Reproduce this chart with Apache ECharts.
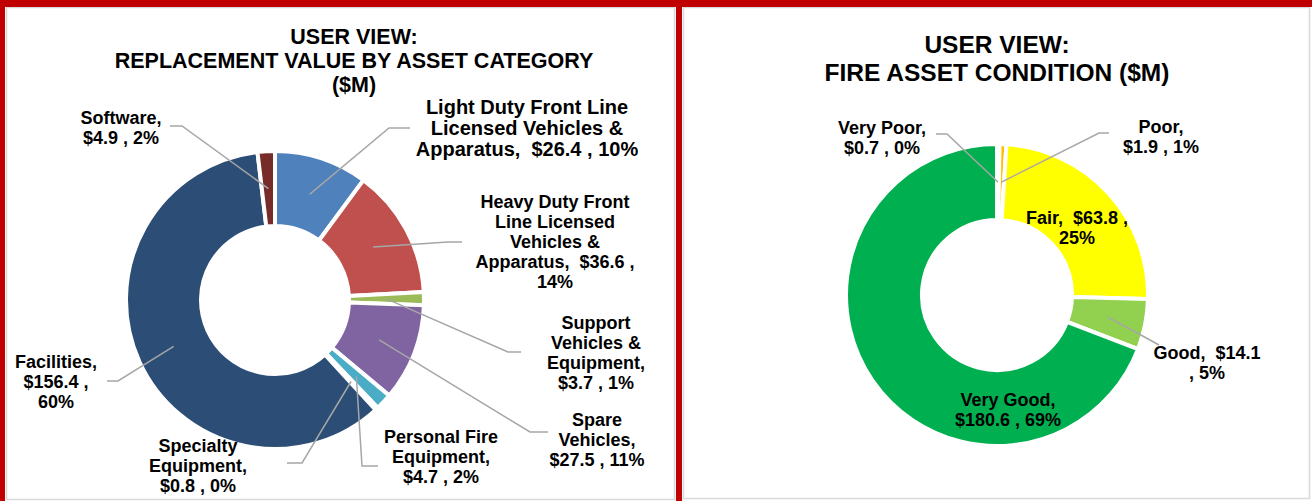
<!DOCTYPE html>
<html>
<head>
<meta charset="utf-8">
<script src="https://cdn.jsdelivr.net/npm/echarts@6/dist/echarts.min.js"></script>
<style>
  html, body { margin: 0; padding: 0; background: #ffffff; }
  #chart { width: 1315px; height: 501px; }
</style>
</head>
<body>
<div id="chart"></div>
<script>
// ---- Replacement value by asset category ($M) ----
const assetCategories = [
  'Light Duty Front Line\nLicensed Vehicles &\nApparatus',
  'Heavy Duty Front\nLine Licensed\nVehicles &\nApparatus',
  'Support\nVehicles &\nEquipment',
  'Spare\nVehicles',
  'Personal Fire\nEquipment',
  'Specialty\nEquipment',
  'Facilities',
  'Software'
];
const assetValues = [26.4, 36.6, 3.7, 27.5, 4.7, 0.8, 156.4, 4.9];
const assetPercents = [10, 14, 1, 11, 2, 0, 60, 2];
const assetColors = ['#4F81BD', '#C0504D', '#9BBB59', '#8064A2', '#4BACC6', '#F79646', '#2C4D75', '#772C2A'];
const assetLabelForms = [
  '{name},  {value} , {pct}',
  '{name},  {value} ,\n{pct}',
  '{name},\n{value} , {pct}',
  '{name},\n{value} , {pct}',
  '{name},\n{value} , {pct}',
  '{name},\n{value} , {pct}',
  '{name},\n{value} ,\n{pct}',
  '{name},\n{value} , {pct}'
];

// ---- Fire asset condition ($M) ----
const conditionCategories = ['Very Poor', 'Poor', 'Fair', 'Good', 'Very Good'];
const conditionValues = [0.7, 1.9, 63.8, 14.1, 180.6];
const conditionPercents = [0, 1, 25, 5, 69];
const conditionColors = ['#C00000', '#FFC000', '#FFFF00', '#92D050', '#00B050'];
const conditionLabelForms = [
  '{name},\n{value} , {pct}',
  '{name},\n{value} , {pct}',
  '{name},  {value} ,\n{pct}',
  '{name},  {value}\n, {pct}',
  '{name},\n{value} , {pct}'
];
const conditionInside = [false, false, true, false, true];

// ---- Layout: ring geometry, label centres, label sizes and leader elbows ----
const assetRing = { center: [275, 300], radius: [74, 149] };
const conditionRing = { center: [997, 295], radius: [75, 151] };

const assetLabelPos = [[527, 128], [555, 242], [596, 353], [597, 440], [441, 457], [198, 466], [56, 382], [121, 128]];
const assetLabelSize = [[20, 21], null, null, null, null, null, null, null];
const assetElbows = [
  [[389, 128], [410, 128]],
  [[448, 242], [462, 242]],
  [[508, 352], [521, 352]],
  [[530, 432], [548, 432]],
  [[362, 466], [378, 466]],
  [[302, 463], [287, 463]],
  [[118, 381], [107, 381]],
  [[182, 126], [170, 126]]
];
const conditionLabelPos = [[882, 138], [1161, 137], [1077, 228], [1207, 363], [1008, 410]];
const conditionLabelSize = [null, null, null, null, null];
const conditionElbows = [
  [[947, 134], [936, 134]],
  [[1099, 133], [1109, 133]],
  null,
  [[1150, 340], [1159, 345]],
  null
];

const FONT = '"Liberation Sans", Arial, sans-serif';

function fillLabel(form, name, value, pct) {
  return form
    .replace('{name}', name)
    .replace('{value}', '$' + value.toFixed(1))
    .replace('{pct}', pct + '%');
}

// Coloured ring slices (no labels)
function ringData(names, values, colors) {
  return names.map(function (n, i) {
    return { name: n, value: values[i], itemStyle: { color: colors[i] } };
  });
}

// Same slices, transparent, carrying labels and leader lines above the ring
function labelData(names, values, forms, pcts, inside, sizes) {
  return names.map(function (n, i) {
    const isIn = inside ? inside[i] : false;
    const label = {
      position: isIn ? 'inside' : 'outside',
      formatter: fillLabel(forms[i], n, values[i], pcts[i])
    };
    if (sizes[i]) {
      label.fontSize = sizes[i][0];
      label.lineHeight = sizes[i][1];
    }
    return {
      name: n,
      value: values[i],
      itemStyle: { color: 'rgba(0,0,0,0)' },
      label: label,
      labelLine: { show: !isIn }
    };
  });
}

// Leader lines start inside the ring, half way between inner and outer radius,
// on the slice's mid-angle (direction taken from the library's default guide line).
function ringAnchor(ring, values, idx, defaultPts) {
  const cx = ring.center[0], cy = ring.center[1];
  const rm = (ring.radius[0] + ring.radius[1]) / 2;
  let dx, dy;
  if (defaultPts && defaultPts.length) {
    dx = defaultPts[0][0] - cx;
    dy = defaultPts[0][1] - cy;
  } else {
    const total = values.reduce(function (a, b) { return a + b; }, 0);
    let before = 0;
    for (let k = 0; k < idx; k++) before += values[k];
    const mid = (before + values[idx] / 2) / total * Math.PI * 2;
    dx = Math.sin(mid);
    dy = -Math.cos(mid);
  }
  const len = Math.sqrt(dx * dx + dy * dy) || 1;
  return [cx + dx / len * rm, cy + dy / len * rm];
}

function makeLayout(ring, values, positions, elbows) {
  return function (params) {
    const i = params.dataIndex;
    const out = {
      x: positions[i][0],
      y: positions[i][1],
      align: 'center',
      verticalAlign: 'middle'
    };
    if (elbows[i]) {
      out.labelLinePoints = [ringAnchor(ring, values, i, params.labelLinePoints)]
        .concat(elbows[i]);
    }
    return out;
  };
}

const labelStyle = {
  show: true,
  color: '#000000',
  fontFamily: FONT,
  fontWeight: 'bold',
  fontSize: 18,
  lineHeight: 20,
  align: 'center'
};

function ringSeries(ring, names, values, colors) {
  return {
    type: 'pie',
    z: 2,
    silent: true,
    center: ring.center,
    radius: ring.radius,
    startAngle: 90,
    clockwise: true,
    emphasis: { disabled: true },
    itemStyle: { borderColor: '#ffffff', borderWidth: 4 },
    label: { show: false },
    labelLine: { show: false },
    data: ringData(names, values, colors)
  };
}

function labelSeries(ring, names, values, forms, pcts, inside, sizes, positions, elbows) {
  return {
    type: 'pie',
    z: 3,
    silent: true,
    center: ring.center,
    radius: ring.radius,
    startAngle: 90,
    clockwise: true,
    avoidLabelOverlap: false,
    emphasis: { disabled: true },
    itemStyle: { borderWidth: 0 },
    label: labelStyle,
    labelLine: { show: true, lineStyle: { color: '#A6A6A6', width: 1.5 } },
    labelLayout: makeLayout(ring, values, positions, elbows),
    data: labelData(names, values, forms, pcts, inside, sizes)
  };
}

const chart = echarts.init(document.getElementById('chart'), null, { renderer: 'svg' });

chart.setOption({
  animation: false,
  backgroundColor: '#ffffff',
  graphic: [
    // panel frames
    { type: 'rect', shape: { x: 6.5, y: 7.5, width: 668, height: 492 }, style: { fill: 'none', stroke: '#D9D9D9', lineWidth: 1.5 }, z: 1 },
    { type: 'rect', shape: { x: 683.5, y: 7.5, width: 626, height: 491 }, style: { fill: 'none', stroke: '#D9D9D9', lineWidth: 1.5 }, z: 1 },
    // red rules
    { type: 'rect', shape: { x: 0, y: 0, width: 1312, height: 7 }, style: { fill: '#C00000' }, z: 2 },
    { type: 'rect', shape: { x: 0, y: 0, width: 5, height: 501 }, style: { fill: '#C00000' }, z: 2 },
    { type: 'rect', shape: { x: 676, y: 0, width: 6, height: 501 }, style: { fill: '#C00000' }, z: 2 },
    // titles
    {
      type: 'text', x: 354, y: 60.5, z: 3,
      style: {
        text: 'USER VIEW:\nREPLACEMENT VALUE BY ASSET CATEGORY\n($M)',
        align: 'center', verticalAlign: 'middle',
        font: 'bold 21.5px ' + FONT, lineHeight: 24, fill: '#000000'
      }
    },
    {
      type: 'text', x: 997, y: 58, z: 3,
      style: {
        text: 'USER VIEW:\nFIRE ASSET CONDITION ($M)',
        align: 'center', verticalAlign: 'middle',
        font: 'bold 24.5px ' + FONT, lineHeight: 28, fill: '#000000'
      }
    }
  ],
  series: [
    ringSeries(assetRing, assetCategories, assetValues, assetColors),
    labelSeries(assetRing, assetCategories, assetValues, assetLabelForms, assetPercents, null,
      assetLabelSize, assetLabelPos, assetElbows),
    ringSeries(conditionRing, conditionCategories, conditionValues, conditionColors),
    labelSeries(conditionRing, conditionCategories, conditionValues, conditionLabelForms, conditionPercents,
      conditionInside, conditionLabelSize, conditionLabelPos, conditionElbows)
  ]
});
</script>
</body>
</html>
